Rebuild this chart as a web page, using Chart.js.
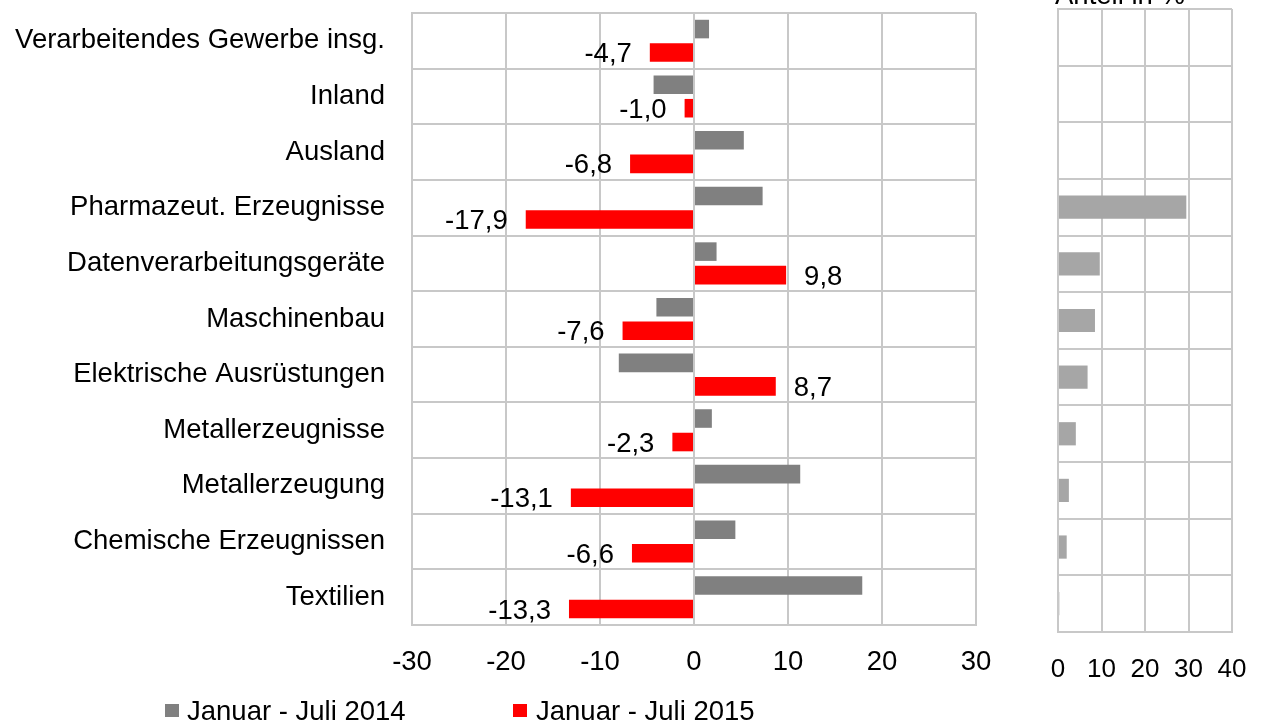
<!DOCTYPE html>
<html><head><meta charset="utf-8">
<script src="https://cdn.jsdelivr.net/npm/chart.js@4/dist/chart.umd.min.js"></script>
<style>
body{margin:0;background:#fff;width:1263px;height:725px;overflow:hidden;position:relative;font-family:"Liberation Sans",Arial,sans-serif;}
#c1{position:absolute;left:0;top:0;}
#c2{position:absolute;left:1040px;top:0;}
.sw{position:absolute;width:14px;height:13px;}
.lt{position:absolute;top:697px;font-size:27.5px;line-height:27px;color:#000;white-space:nowrap;}
</style></head><body>
<canvas id="c1" width="1010" height="725"></canvas>
<canvas id="c2" width="223" height="725"></canvas>
<div class="sw" style="left:165px;top:704px;background:#808080"></div>
<div class="lt" style="left:187px">Januar - Juli 2014</div>
<div class="sw" style="left:513px;top:704px;background:#ff0000"></div>
<div class="lt" style="left:536px">Januar - Juli 2015</div>
<script>
const categories = ["Verarbeitendes Gewerbe insg.","Inland","Ausland","Pharmazeut. Erzeugnisse","Datenverarbeitungsgeräte","Maschinenbau","Elektrische Ausrüstungen","Metallerzeugnisse","Metallerzeugung","Chemische Erzeugnissen","Textilien"];
const series2014 = [1.6,-4.3,5.3,7.3,2.4,-4.0,-8.0,1.9,11.3,4.4,17.9];
const series2015 = [-4.7,-1.0,-6.8,-17.9,9.8,-7.6,8.7,-2.3,-13.1,-6.6,-13.3];
const anteil = [null,null,null,29.5,9.6,8.5,6.8,4.1,2.5,2.0,0.3];
const legendLabels = ["Januar - Juli 2014","Januar - Juli 2015"];
const rightTitle = "Anteil in %";

const FONT = '"Liberation Sans", Arial, sans-serif';
Chart.defaults.font.family = FONT;
Chart.defaults.font.size = 27.5;
Chart.defaults.color = '#000';
const GRID = '#c8c8c8';
function noPad(s){s.paddingTop=0;s.paddingBottom=0;s.paddingLeft=0;s.paddingRight=0;}

const labelPlugin = {
  id:'redLabels',
  afterDatasetsDraw(chart){
    const ctx = chart.ctx;
    const meta = chart.getDatasetMeta(1);
    ctx.save();
    ctx.font = '27.5px ' + FONT;
    ctx.fillStyle = '#000';
    ctx.textBaseline = 'middle';
    meta.data.forEach((bar,i)=>{
      const v = series2015[i];
      const txt = v.toFixed(1).replace('.',',');
      if(v<0){ctx.textAlign='right';ctx.fillText(txt,bar.x-18,bar.y+2);}
      else{ctx.textAlign='left';ctx.fillText(txt,bar.x+18,bar.y+2);}
    });
    ctx.restore();
  }
};

new Chart(document.getElementById('c1'),{
  type:'bar',
  data:{labels:categories,datasets:[
    {label:legendLabels[0],data:series2014,backgroundColor:'#808080',categoryPercentage:0.845,barPercentage:0.79},
    {label:legendLabels[1],data:series2015,backgroundColor:'#ff0000',categoryPercentage:0.845,barPercentage:0.79}
  ]},
  options:{
    indexAxis:'y',responsive:false,animation:false,
    layout:{padding:{left:0,right:34,top:13,bottom:0}},
    plugins:{legend:{display:false},tooltip:{enabled:false}},
    scales:{
      x:{min:-30,max:30,ticks:{stepSize:10,padding:21,color:'#000'},
         grid:{color:GRID,lineWidth:2,drawTicks:false},
         border:{display:true,color:GRID,width:2},
         afterFit(s){s.height=100;noPad(s);}},
      y:{ticks:{padding:27,color:'#000'},
         grid:{color:GRID,lineWidth:2,drawTicks:false},
         border:{display:true,color:GRID,width:2},
         afterFit(s){s.width=412;noPad(s);}}
    }
  },
  plugins:[labelPlugin]
});

const titlePlugin = {
  id:'cutTitle',
  afterDraw(chart){
    const ctx=chart.ctx;ctx.save();
    ctx.font='27.5px '+FONT;
    ctx.fillStyle='#000';ctx.textAlign='left';ctx.textBaseline='alphabetic';
    ctx.fillText(rightTitle,15,4);ctx.restore();
  }
};

new Chart(document.getElementById('c2'),{
  type:'bar',
  data:{labels:categories,datasets:[
    {label:rightTitle,data:anteil,backgroundColor:'#a6a6a6',categoryPercentage:1,barPercentage:0.41}
  ]},
  options:{
    indexAxis:'y',responsive:false,animation:false,
    layout:{padding:{left:18,right:31,top:9,bottom:0}},
    plugins:{legend:{display:false},tooltip:{enabled:false}},
    scales:{
      x:{min:0,max:40,ticks:{stepSize:10,padding:22,color:'#000',font:{size:26}},
         grid:{color:GRID,lineWidth:2,drawTicks:false},
         border:{display:true,color:GRID,width:2},
         afterFit(s){s.height=93;noPad(s);}},
      y:{ticks:{display:false},
         grid:{color:GRID,lineWidth:2,drawTicks:false},
         border:{display:true,color:GRID,width:2},
         afterFit(s){s.width=0;noPad(s);}}
    }
  },
  plugins:[titlePlugin]
});
</script>
</body></html>
